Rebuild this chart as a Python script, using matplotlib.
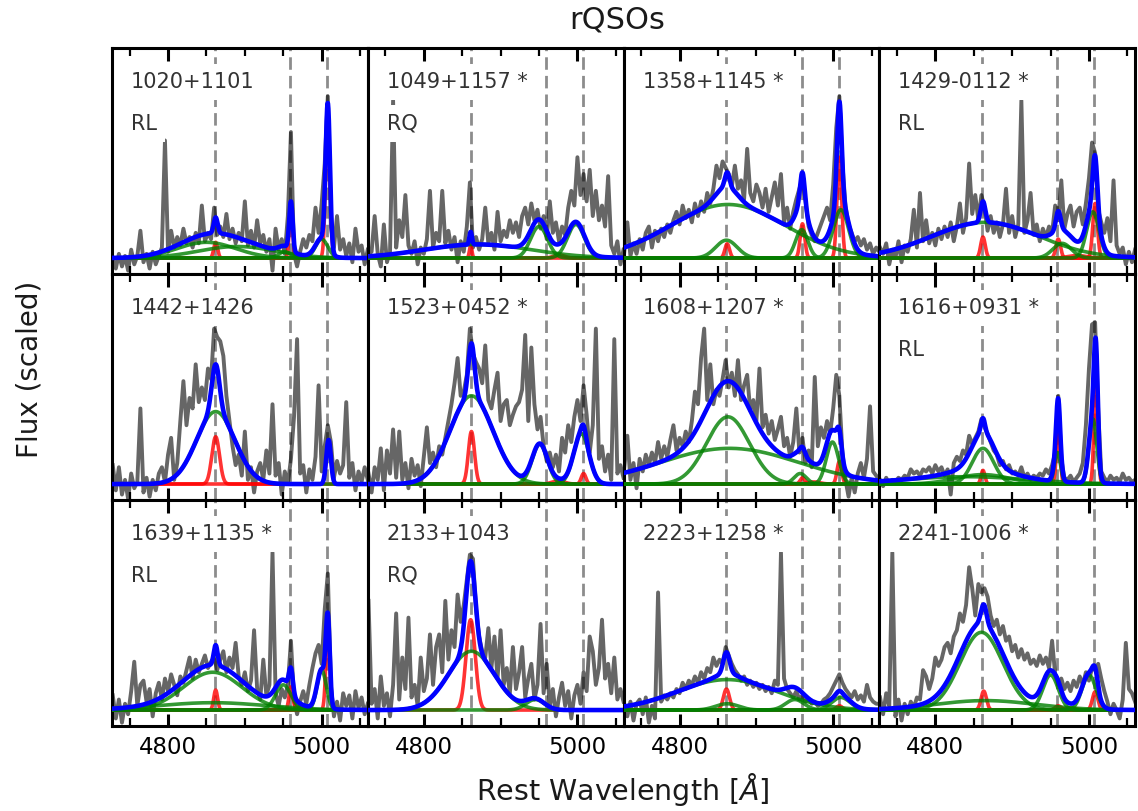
import numpy as np
import matplotlib
matplotlib.use("Agg")
import matplotlib.pyplot as plt
from matplotlib.ticker import MultipleLocator

# ---------------- data ----------------
wave = np.arange(4728, 5061, 4)          # observed grid of the spectra (84 pts)
names = ["1020+1101", "1049+1157 *", "1358+1145 *", "1429-0112 *",
         "1442+1426", "1523+0452 *", "1608+1207 *", "1616+0931 *",
         "1639+1135 *", "2133+1043", "2223+1258 *", "2241-1006 *"]
radio = ["RL", "RQ", "", "RL", "", "", "", "RL", "RL", "RQ", "", ""]
lines_ref = [4861, 4959, 5007]

spec_1020 = [0.00, -0.05, 0.02, -0.04, 0.01, -0.06, 0.04, -0.03, 0.01, 0.13, -0.02, 0.02,
             -0.05, 0.03, -0.03, 0.01, 0.05, 0.56, 0.03, 0.13, 0.05, 0.10, 0.06, 0.14,
             0.07, 0.10, 0.05, 0.12, 0.07, 0.25, 0.08, 0.12, 0.09, 0.24, 0.11, 0.15,
             0.10, 0.21, 0.09, 0.14, 0.07, 0.12, 0.08, 0.27, 0.06, 0.13, 0.05, 0.18,
             0.07, 0.11, 0.03, 0.09, -0.06, 0.14, 0.04, 0.09, 0.02, 0.20, 0.60, 0.02,
             -0.04, 0.03, 0.09, 0.05, 0.11, 0.08, 0.24, 0.12, 0.26, 0.45, 0.77, 0.15,
             0.05, 0.20, 0.04, 0.09, 0.01, 0.07, -0.02, 0.14, 0.03, 0.06, -0.03, 0.04]
spec_1049 = [0.02, 0.03, 0.20, 0.02, -0.04, 0.16, -0.02, 0.03, 0.75, 0.05, 0.18, 0.10,
             0.30, 0.06, 0.02, 0.08, -0.03, 0.05, 0.02, 0.09, 0.32, 0.05, 0.12, 0.08,
             0.32, 0.07, 0.13, 0.04, 0.10, -0.02, 0.08, 0.03, 0.15, 0.36, 0.05, 0.10,
             0.04, 0.09, 0.24, 0.07, 0.12, 0.04, 0.22, 0.08, 0.13, 0.10, 0.18, 0.12,
             0.17, 0.10, 0.20, 0.24, 0.16, 0.26, 0.18, 0.23, 0.14, 0.20, 0.09, 0.27,
             0.12, 0.17, 0.08, 0.15, 0.11, 0.24, 0.32, 0.25, 0.48, 0.30, 0.40, 0.27,
             0.42, 0.20, 0.32, 0.18, 0.25, 0.15, 0.39, 0.06, 0.02, 0.08, -0.03, 0.04]
spec_1358 = [0.03, 0.17, 0.01, 0.07, 0.02, 0.09, 0.04, 0.12, 0.15, 0.05, 0.13, 0.08,
             0.14, 0.10, 0.16, 0.12, 0.18, 0.22, 0.16, 0.25, 0.19, 0.23, 0.17, 0.26,
             0.20, 0.27, 0.22, 0.31, 0.26, 0.33, 0.44, 0.38, 0.46, 0.43, 0.40, 0.34,
             0.44, 0.33, 0.37, 0.28, 0.52, 0.31, 0.27, 0.35, 0.31, 0.24, 0.33, 0.22,
             0.29, 0.36, 0.25, 0.40, 0.17, 0.24, 0.14, 0.22, 0.28, 0.33, 0.38, 0.27,
             0.15, 0.11, 0.08, 0.12, 0.16, 0.20, 0.24, 0.18, 0.35, 0.62, 0.77, 0.45,
             0.25, 0.16, 0.12, 0.08, 0.10, 0.06, 0.09, 0.04, 0.07, 0.02, 0.05, 0.03]
spec_1429 = [0.05, 0.02, 0.07, -0.03, 0.04, 0.00, 0.08, -0.02, 0.06, 0.03, 0.09, 0.23,
             0.05, 0.31, 0.08, 0.18, 0.07, 0.12, 0.06, 0.14, 0.09, 0.15, 0.10, 0.17,
             0.08, 0.15, 0.26, 0.12, 0.19, 0.45, 0.21, 0.30, 0.18, 0.30, 0.24, 0.13,
             0.20, 0.12, 0.17, 0.10, 0.16, 0.33, 0.12, 0.20, 0.10, 0.16, 0.75, 0.12,
             0.18, 0.31, 0.11, 0.16, 0.08, 0.14, 0.10, 0.15, 0.12, 0.25, 0.18, 0.37,
             0.14, 0.21, 0.25, 0.15, 0.22, 0.24, 0.16, 0.26, 0.38, 0.55, 0.50, 0.23,
             0.17, 0.12, 0.19, 0.08, 0.37, 0.06, 0.02, 0.05, -0.03, 0.03, -0.02, 0.04]
spec_1442 = [0.09, -0.03, 0.08, -0.05, 0.02, -0.07, 0.05, -0.02, 0.01, 0.36, -0.04, 0.03,
             -0.06, 0.02, -0.03, 0.05, 0.08, 0.01, 0.14, 0.22, 0.02, 0.10, 0.30, 0.49,
             0.28, 0.41, 0.36, 0.57, 0.39, 0.46, 0.40, 0.55, 0.50, 0.74, 0.70, 0.68,
             0.61, 0.42, 0.30, 0.18, 0.09, 0.14, 0.04, 0.25, 0.02, 0.08, -0.04, 0.06,
             0.10, 0.02, 0.16, 0.05, 0.38, 0.04, 0.10, -0.05, 0.06, 0.00, 0.12, 0.32,
             0.69, 0.05, 0.09, -0.04, 0.07, 0.02, 0.13, 0.47, 0.06, 0.18, 0.28, 0.20,
             0.03, 0.11, 0.05, 0.09, 0.39, 0.03, 0.10, -0.03, 0.06, 0.01, 0.08, 0.02]
spec_1523 = [0.05, -0.04, 0.08, 0.02, 0.17, -0.03, 0.16, 0.05, 0.26, 0.03, 0.25, 0.02,
             0.10, -0.02, 0.12, 0.04, 0.09, -0.01, 0.13, 0.27, 0.10, 0.15, 0.08, 0.18,
             0.14, 0.22, 0.30, 0.38, 0.48, 0.60, 0.42, 0.44, 0.52, 0.74, 0.62, 0.58,
             0.55, 0.48, 0.66, 0.40, 0.36, 0.45, 0.53, 0.30, 0.38, 0.40, 0.28, 0.33,
             0.37, 0.39, 0.45, 0.71, 0.30, 0.65, 0.38, 0.26, 0.32, 0.18, 0.11, 0.15,
             0.08, 0.14, 0.06, 0.22, 0.15, 0.28, 0.20, 0.32, 0.40, 0.30, 0.47, 0.33,
             0.15, 0.28, 0.74, 0.12, 0.18, 0.06, 0.14, 0.02, 0.69, 0.05, 0.09, 0.03]
spec_1608 = [0.08, 0.23, 0.02, 0.10, -0.02, 0.12, 0.06, 0.14, 0.09, 0.15, 0.10, 0.20,
             0.12, 0.18, 0.13, 0.21, 0.28, 0.16, 0.22, 0.18, 0.25, 0.20, 0.30, 0.44,
             0.38, 0.60, 0.74, 0.40, 0.57, 0.38, 0.45, 0.42, 0.50, 0.59, 0.46, 0.53,
             0.42, 0.59, 0.40, 0.47, 0.52, 0.35, 0.40, 0.30, 0.55, 0.27, 0.33, 0.24,
             0.30, 0.21, 0.26, 0.32, 0.18, 0.22, 0.13, 0.20, 0.36, 0.15, 0.22, 0.10,
             0.16, 0.08, 0.51, 0.18, 0.27, 0.22, 0.30, 0.24, 0.36, 0.52, 0.42, 0.15,
             0.02, -0.06, 0.03, -0.04, 0.05, 0.10, 0.03, 0.12, 0.37, 0.06, 0.04, 0.02]
spec_1616 = [0.02, -0.01, 0.03, 0.00, 0.02, 0.01, 0.03, 0.02, 0.04, 0.03, 0.07, 0.05,
             0.06, 0.04, 0.07, 0.06, 0.08, 0.05, 0.09, 0.06, 0.08, 0.04, 0.07, -0.05,
             0.10, 0.13, 0.11, 0.16, 0.14, 0.23, 0.19, 0.22, 0.25, 0.31, 0.27, 0.24,
             0.20, 0.16, 0.14, 0.09, 0.11, 0.07, 0.09, 0.05, 0.06, 0.04, 0.08, 0.03,
             0.05, 0.02, 0.04, 0.03, 0.05, 0.04, 0.07, 0.05, 0.09, 0.15, 0.42, 0.12,
             0.03, 0.02, 0.04, 0.01, 0.03, 0.05, 0.10, 0.28, 0.55, 0.76, 0.77, 0.35,
             0.06, 0.03, 0.01, 0.04, 0.02, 0.03, 0.01, 0.05, 0.02, 0.03, 0.01, 0.02]
spec_1639 = [0.07, -0.04, 0.05, -0.06, 0.03, -0.02, 0.09, 0.23, 0.02, 0.12, 0.14, 0.04,
             0.10, -0.03, 0.08, 0.13, 0.05, 0.15, 0.09, 0.17, 0.12, 0.07, 0.16, 0.13,
             0.19, 0.25, 0.15, 0.24, 0.18, 0.22, 0.26, 0.20, 0.23, 0.25, 0.19, 0.24,
             0.28, 0.18, 0.25, 0.20, 0.32, 0.16, 0.12, 0.18, 0.09, 0.14, 0.38, 0.10,
             0.05, 0.24, 0.07, 0.12, 0.75, 0.08, 0.02, 0.10, 0.06, 0.12, 0.33, 0.05,
             -0.02, 0.04, 0.09, 0.03, 0.12, 0.20, 0.27, 0.31, 0.22, 0.48, 0.65, 0.12,
             -0.03, 0.04, -0.05, 0.08, 0.02, 0.07, -0.04, 0.09, 0.01, 0.06, -0.02, 0.03]
spec_2133 = [0.52, 0.03, 0.10, -0.04, 0.16, 0.02, 0.08, -0.03, 0.12, 0.46, 0.05, 0.25,
             0.10, 0.44, 0.06, 0.12, 0.02, 0.25, 0.09, 0.15, 0.36, 0.12, 0.30, 0.36,
             0.18, 0.52, 0.24, 0.38, 0.30, 0.55, 0.42, 0.50, 0.62, 0.74, 0.72, 0.48,
             0.35, 0.28, 0.25, 0.39, 0.20, 0.35, 0.15, 0.38, 0.12, 0.20, 0.08, 0.30,
             0.10, 0.18, 0.30, 0.06, 0.15, 0.22, 0.05, 0.12, 0.41, 0.08, 0.22, 0.02,
             0.10, -0.03, 0.06, 0.13, 0.02, 0.09, -0.04, 0.07, 0.12, 0.03, 0.18, 0.09,
             0.35, 0.28, 0.12, 0.20, 0.43, 0.15, 0.22, 0.08, 0.25, 0.05, 0.10, 0.04]
spec_2223 = [0.02, -0.03, 0.04, -0.05, 0.03, 0.05, -0.02, 0.06, -0.06, 0.02, -0.04, 0.56,
             0.04, 0.07, 0.05, 0.08, 0.06, 0.10, 0.08, 0.13, 0.10, 0.14, 0.12, 0.16,
             0.13, 0.18, 0.15, 0.20, 0.18, 0.25, 0.21, 0.24, 0.22, 0.30, 0.26, 0.22,
             0.19, 0.17, 0.14, 0.16, 0.12, 0.14, 0.11, 0.13, 0.10, 0.12, 0.09, 0.11,
             0.08, 0.14, 0.12, 0.75, 0.15, 0.10, 0.08, 0.06, 0.09, 0.05, 0.07, 0.04,
             0.05, 0.03, 0.04, 0.02, 0.03, 0.05, 0.06, 0.08, 0.11, 0.14, 0.17, 0.13,
             0.10, 0.08, 0.06, 0.09, 0.05, 0.07, 0.04, 0.12, 0.06, 0.04, 0.03, 0.03]
spec_2241 = [0.06, -0.02, 0.08, 0.02, 0.75, -0.03, 0.05, -0.05, 0.03, -0.02, 0.04, 0.01,
             0.06, 0.05, 0.19, 0.16, 0.10, 0.15, 0.25, 0.21, 0.24, 0.30, 0.32, 0.27,
             0.35, 0.38, 0.46, 0.42, 0.50, 0.68, 0.58, 0.45, 0.60, 0.56, 0.58, 0.54,
             0.45, 0.40, 0.43, 0.36, 0.40, 0.33, 0.35, 0.28, 0.31, 0.25, 0.29, 0.24,
             0.27, 0.22, 0.24, 0.21, 0.26, 0.22, 0.25, 0.20, 0.33, 0.17, 0.12, 0.15,
             0.10, 0.13, 0.09, 0.14, 0.11, 0.16, 0.12, 0.18, 0.14, 0.20, 0.19, 0.22,
             0.15, 0.09, 0.04, -0.02, 0.03, 0.00, -0.04, 0.05, 0.32, 0.10, 0.08, 0.04]
spectra = [spec_1020, spec_1049, spec_1358, spec_1429, spec_1442, spec_1523,
           spec_1608, spec_1616, spec_1639, spec_2133, spec_2223, spec_2241]

# fitted Gaussian components: (centre [A], peak height, sigma [A])
broad = [
    [(4850, 0.075, 38), (4890, 0.055, 50), (4952, 0.03, 8), (5000, 0.09, 8)],
    [(4870, 0.065, 70), (4950, 0.15, 11), (4998, 0.16, 11)],
    [(4863, 0.255, 75), (4861, 0.085, 14), (4959, 0.135, 8), (5010, 0.23, 10)],
    [(4865, 0.17, 70), (4965, 0.07, 12), (5005, 0.22, 8)],
    [(4862, 0.345, 25)],
    [(4862, 0.42, 28), (4951, 0.19, 10), (5005, 0.24, 10)],
    [(4863, 0.32, 28), (4865, 0.17, 90), (4957, 0.05, 8), (4999, 0.20, 8)],
    [(4862, 0.17, 14), (4862, 0.045, 35), (4840, 0.035, 80), (4959, 0.15, 4), (5005, 0.31, 5)],
    [(4858, 0.18, 38), (4858, 0.035, 70), (4950, 0.12, 10), (5000, 0.19, 6)],
    [(4862, 0.28, 30), (4945, 0.05, 12)],
    [(4862, 0.145, 65), (4862, 0.03, 15), (4950, 0.05, 12), (5010, 0.06, 12)],
    [(4860, 0.37, 28), (4865, 0.045, 65), (4950, 0.167, 10), (5000, 0.167, 9)],
]
narrow = [
    [(4862, 0.075, 2.5), (4960, 0.23, 2.2), (5008, 0.68, 2.8)],
    [(4861, 0.06, 1.6), (4976, 0.015, 7)],
    [(4862, 0.068, 3), (4960, 0.163, 3), (5008, 0.48, 3)],
    [(4862, 0.10, 3), (4960, 0.09, 3), (4985, 0.012, 12), (5008, 0.26, 3)],
    [(4862, 0.225, 5), (5009, 0.21, 3)],
    [(4862, 0.25, 4), (4975, 0.015, 8), (5008, 0.05, 3)],
    [(4960, 0.03, 3), (4975, 0.01, 8), (5008, 0.107, 3)],
    [(4862, 0.065, 2.5), (4960, 0.25, 2.5), (5009, 0.46, 2.5)],
    [(4862, 0.095, 2.5), (4960, 0.11, 2.5), (4975, 0.01, 8), (5008, 0.38, 2.5)],
    [(4861, 0.43, 6)],
    [(4861, 0.10, 4), (5008, 0.02, 4)],
    [(4863, 0.09, 3.5), (4960, 0.02, 4), (4975, 0.01, 8), (5008, 0.087, 3.5)],
]

# ---------------- plotting ----------------
plt.rcParams["font.family"] = "DejaVu Sans"
fig, axes = plt.subplots(3, 4, figsize=(11.38, 8.11), dpi=100, sharex=True, sharey=True)
fig.subplots_adjust(left=0.0984, right=0.9974, top=0.9408, bottom=0.1048,
                    wspace=0, hspace=0)

xm = np.linspace(4727, 5060, 1500)


def gauss(x, c, a, s):
    return a * np.exp(-0.5 * ((x - c) / s) ** 2)


for k, ax in enumerate(axes.flat):
    ax.plot(wave, spectra[k], color="k", alpha=0.6, lw=2.8, zorder=1)
    for lr in lines_ref:
        ax.axvline(lr, color="k", alpha=0.45, lw=2, ls=(0, (4.5, 2.2)), zorder=2)
    total = np.zeros_like(xm)
    for (c, a, s) in narrow[k]:
        g = gauss(xm, c, a, s)
        total += g
        ax.plot(xm, g, color="red", alpha=0.8, lw=2.6, zorder=3)
    for (c, a, s) in broad[k]:
        g = gauss(xm, c, a, s)
        total += g
        ax.plot(xm, g, color="green", alpha=0.8, lw=2.6, zorder=4)
    ax.plot(xm, total, color="blue", lw=3.3, zorder=5)

    ax.text(0.075, 0.85, names[k], transform=ax.transAxes, fontsize=15,
            color="0.2", ha="left", va="center", zorder=10,
            bbox=dict(facecolor="white", edgecolor="none", pad=6))
    if radio[k]:
        ax.text(0.075, 0.665, radio[k], transform=ax.transAxes, fontsize=15,
                color="0.2", ha="left", va="center", zorder=10,
                bbox=dict(facecolor="white", edgecolor="none", pad=6))

    ax.set_xlim(4727, 5060)
    ax.set_ylim(-0.076, 1.0)
    ax.set_xticks([4800, 5000])
    ax.xaxis.set_minor_locator(MultipleLocator(50))
    ax.set_yticks([])
    ax.tick_params(axis="x", which="both", direction="in", top=True, bottom=True,
                   labelsize=16.5, pad=7)
    ax.tick_params(axis="x", which="major", length=9, width=2.2)
    ax.tick_params(axis="x", which="minor", length=6, width=1.6)
    for sp in ax.spines.values():
        sp.set_linewidth(2.2)
        sp.set_color("k")

fig.text(0.542, 0.975, "rQSOs", fontsize=22, ha="center", va="center", color="0.1")
fig.text(0.547, 0.027, r"Rest Wavelength [$\AA$]", fontsize=20.5, ha="center",
         va="center", color="0.1")
fig.text(0.026, 0.544, "Flux (scaled)", fontsize=20, ha="center", va="center",
         rotation=90, color="0.1")

fig.savefig("out.png", dpi=100)
